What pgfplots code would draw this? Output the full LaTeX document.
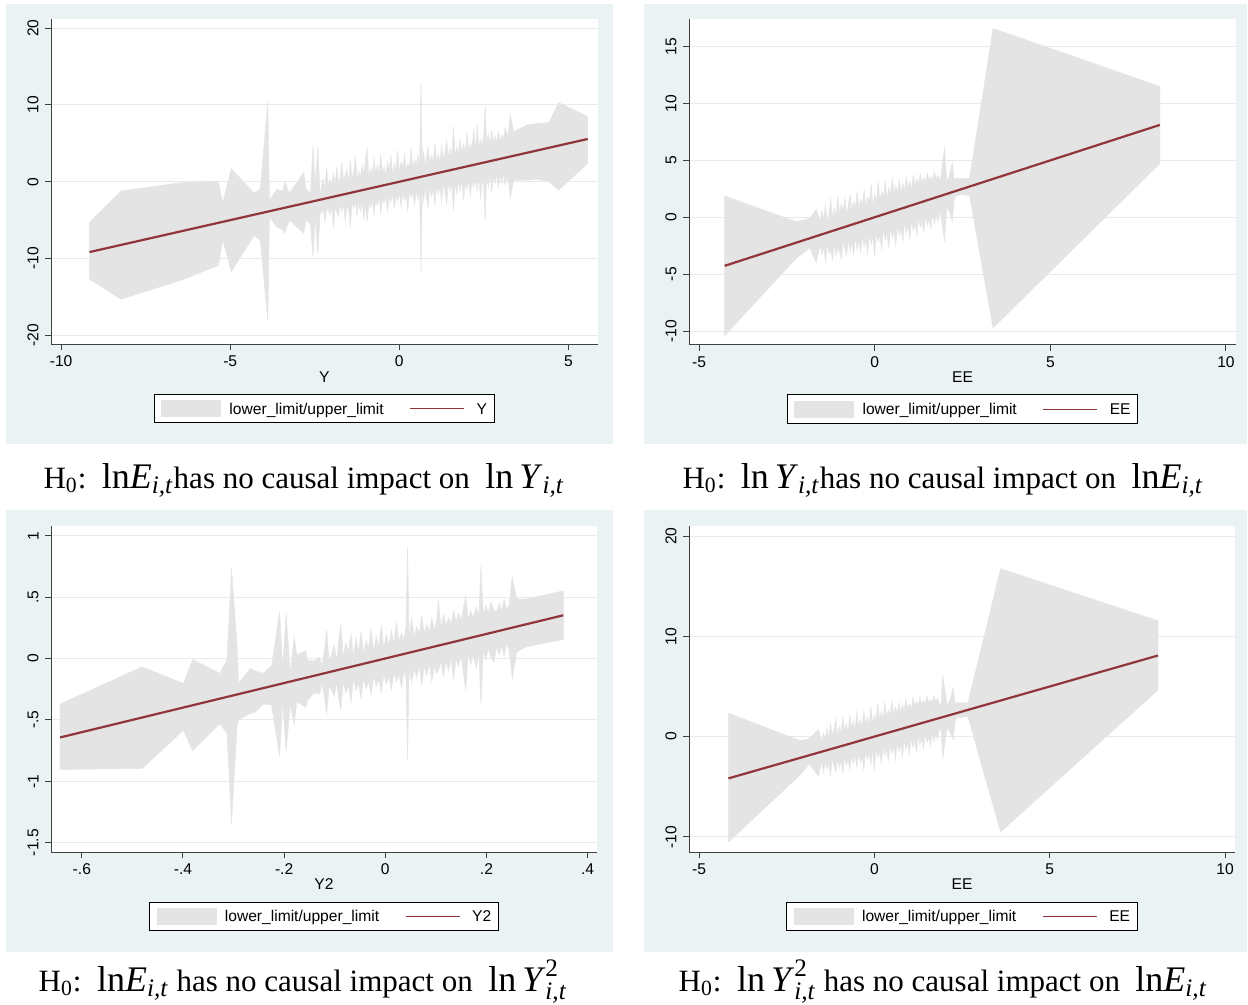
\documentclass[border=0pt]{standalone}
\usepackage{amsmath}
\usepackage{fontspec}
\setmainfont{Liberation Serif}
\newfontfamily\arial{Liberation Sans}
\usepackage{pgfplots}
\pgfplotsset{compat=1.18}
\usepgfplotslibrary{fillbetween}
\usepackage{pgfplotstable}
\pgfdeclarelayer{axis background}

\definecolor{stbg}{HTML}{EAF2F3}
\definecolor{stgrid}{HTML}{E2ECEE}
\definecolor{stband}{HTML}{E4E4E4}
\definecolor{stline}{HTML}{90353B}
\definecolor{staxis}{HTML}{404040}
\newcommand\chartfont{\arial\fontsize{7.8}{9}\selectfont}

% confidence band of panel 1 (Y)
\pgfplotstableread{
x lo hi
-9.16 -12.7 -5.3
-8.23 -15.3 -1.2
-6.43 -12.8 -0.1
-5.35 -10.9 0.05
-5.22 -7.6 -2.8
-4.97 -11.7 1.7
-4.29 -7.0 -1.5
-4.11 -7.6 -0.9
-3.89 -18.1 10.4
-3.84 -4.6 -2.4
-3.62 -5.9 -1.0
-3.44 -6.3 -1.2
-3.39 -6.7 0.0
-3.25 -5.0 -1.5
-2.83 -6.7 1.2
-2.75 -5.0 -1.0
-2.63 -5.5 -1.5
-2.55 -9.8 4.7
-2.49 -4.5 -0.5
-2.41 -9.4 4.5
-2.34 -4.0 -1.9
-2.30 -4.1 -0.6
-2.25 -3.4 0.4
-2.20 -5.3 -1.0
-2.15 -3.6 1.9
-2.10 -3.5 -0.6
-2.05 -4.4 0.3
-2.00 -3.2 -0.4
-1.95 -6.1 1.2
-1.90 -3.4 -0.3
-1.85 -3.9 1.9
-1.80 -4.6 0.0
-1.75 -3.0 0.4
-1.70 -3.9 2.6
-1.65 -2.9 0.1
-1.60 -5.2 0.9
-1.55 -3.1 1.6
-1.50 -3.6 -0.1
-1.45 -6.0 2.9
-1.40 -2.8 0.5
-1.35 -3.5 1.1
-1.30 -2.6 3.4
-1.25 -4.4 0.2
-1.20 -2.7 1.4
-1.15 -3.9 0.6
-1.10 -2.5 2.2
-1.05 -5.0 0.9
-1.00 -2.9 3.0
-0.95 -5.2 4.3
-0.90 -2.6 0.6
-0.85 -3.4 1.8
-0.80 -2.3 0.9
-0.75 -4.4 3.1
-0.70 -2.5 1.0
-0.65 -3.1 2.2
-0.60 -2.0 0.9
-0.55 -4.1 3.6
-0.50 -2.2 1.1
-0.45 -2.8 2.0
-0.40 -1.9 0.8
-0.35 -3.9 2.7
-0.30 -2.0 1.5
-0.25 -2.6 3.4
-0.20 -1.6 1.0
-0.15 -3.4 2.4
-0.10 -1.9 1.4
-0.05 -2.5 4.1
0.00 -1.5 1.3
0.05 -3.3 2.6
0.10 -1.4 1.8
0.15 -2.4 3.7
0.20 -1.8 1.5
0.25 -3.9 2.4
0.30 -1.2 1.9
0.35 -2.1 4.4
0.40 -1.5 1.7
0.45 -3.0 2.9
0.50 -1.1 2.2
0.55 -2.4 3.5
0.60 -1.3 2.0
0.64 -11.9 13.0
0.68 -1.0 2.4
0.72 -2.6 3.9
0.76 -0.8 2.1
0.80 -2.0 3.0
0.85 -3.4 4.6
0.90 -0.6 2.4
0.95 -1.9 3.5
1.00 -0.9 2.6
1.05 -3.1 5.1
1.10 -0.5 2.8
1.15 -1.6 3.6
1.20 -0.7 2.5
1.25 -2.6 4.8
1.30 -0.3 3.0
1.35 -1.4 3.9
1.40 -2.9 5.4
1.45 -0.2 3.1
1.50 -1.2 4.4
1.55 -0.3 3.2
1.60 -3.7 7.2
1.65 -0.1 3.5
1.70 -1.6 4.6
1.75 0.0 3.6
1.80 -1.3 5.6
1.85 0.1 3.7
1.90 -2.4 4.9
1.95 -0.2 3.9
2.00 -1.0 6.4
2.05 0.3 4.0
2.10 -1.9 5.0
2.15 0.2 4.4
2.20 -0.8 6.9
2.25 0.5 4.3
2.30 -1.2 7.4
2.35 0.6 4.5
2.40 -2.3 5.6
2.45 0.4 4.7
2.50 -0.9 6.3
2.54 -4.96 9.94
2.58 0.7 5.0
2.63 -0.6 6.2
2.68 0.9 4.9
2.73 -1.4 6.7
2.78 0.8 5.2
2.83 -0.3 6.0
2.88 1.0 5.1
2.93 -0.8 6.6
2.98 0.9 5.3
3.03 -0.2 6.1
3.08 1.1 5.6
3.13 -0.5 7.0
3.18 0.6 6.2
3.23 0.1 6.4
3.28 -2.12 8.78
3.38 0.2 6.5
3.55 0.2 6.9
3.78 0.2 7.4
4.10 0.3 7.6
4.42 0.0 7.7
4.71 -1.1 10.3
5.57 2.4 8.5
}\bandY

% confidence band of panel 2 (EE)
\pgfplotstableread{
x lo hi
-4.27 -10.4 1.87
-2.23 -3.6 -0.39
-1.85 -2.7 -0.1
-1.66 -4.0 0.7
-1.55 -2.4 -0.4
-1.50 -3.3 0.6
-1.45 -2.6 -0.2
-1.40 -3.9 1.1
-1.35 -2.4 -0.4
-1.30 -3.2 0.3
-1.25 -2.9 1.6
-1.20 -3.8 -0.1
-1.15 -2.3 0.8
-1.10 -3.4 0.1
-1.05 -2.6 1.9
-1.00 -3.1 0.3
-0.95 -3.7 1.2
-0.90 -2.1 0.5
-0.85 -2.8 1.7
-0.80 -3.4 0.2
-0.75 -2.0 1.1
-0.70 -3.0 2.0
-0.65 -2.2 0.6
-0.60 -3.3 1.4
-0.55 -1.8 0.9
-0.50 -2.9 2.2
-0.45 -2.0 0.8
-0.40 -3.1 1.6
-0.35 -1.7 1.1
-0.30 -2.6 2.4
-0.25 -1.9 0.9
-0.20 -3.2 1.8
-0.15 -1.5 1.3
-0.10 -2.4 2.9
-0.05 -1.7 1.0
0.00 -3.5 2.0
0.05 -1.3 1.4
0.10 -2.2 3.2
0.15 -1.6 1.5
0.20 -2.9 2.3
0.25 -1.1 1.7
0.30 -2.0 3.3
0.35 -1.4 1.6
0.40 -2.7 2.6
0.45 -0.9 1.9
0.50 -1.8 3.5
0.55 -1.2 2.0
0.60 -2.5 2.8
0.65 -0.7 2.2
0.70 -1.6 3.3
0.75 -0.9 2.1
0.80 -2.2 3.0
0.85 -0.5 2.4
0.90 -1.4 3.6
0.95 -0.7 2.6
1.00 -1.9 3.2
1.05 -0.3 2.5
1.10 -1.2 3.7
1.15 -0.5 2.8
1.20 -1.6 3.4
1.25 -0.1 2.9
1.30 -0.9 3.8
1.35 -0.4 3.0
1.40 -1.3 3.5
1.45 0.1 3.1
1.50 -0.7 3.9
1.55 -0.2 3.2
1.60 -1.0 3.6
1.65 0.3 3.3
1.70 -0.6 4.0
1.75 0.2 3.4
1.80 -0.4 3.7
1.85 0.5 3.2
1.90 -0.2 3.9
1.99 -2.1 6.2
2.05 0.9 3.1
2.12 0.5 3.6
2.21 -0.4 4.8
2.26 1.5 3.3
2.30 1.9 3.4
2.50 2.0 3.4
2.70 1.9 3.4
3.37 -9.74 16.6
8.12 4.74 11.5
}\bandEEa

% confidence band of panel 3 (Y2)
\pgfplotstableread{
x lo hi
-0.643 -0.904 -0.372
-0.481 -0.896 -0.068
-0.399 -0.584 -0.204
-0.381 -0.752 -0.008
-0.327 -0.530 -0.122
-0.313 -0.610 -0.010
-0.304 -1.344 0.733
-0.293 -0.540 0.095
-0.290 -0.500 -0.200
-0.267 -0.448 -0.081
-0.258 -0.440 -0.100
-0.241 -0.370 -0.120
-0.225 -0.380 -0.060
-0.209 -0.796 0.377
-0.203 -0.350 -0.070
-0.196 -0.752 0.366
-0.188 -0.370 -0.120
-0.180 -0.540 0.176
-0.175 -0.350 0.030
-0.157 -0.400 0.062
-0.154 -0.340 -0.014
-0.140 -0.280 -0.020
-0.130 -0.290 0.010
-0.125 -0.200 -0.060
-0.120 -0.330 0.080
-0.116 -0.456 0.234
-0.111 -0.230 -0.030
-0.106 -0.260 0.040
-0.101 -0.310 0.110
-0.096 -0.200 -0.020
-0.092 -0.330 0.160
-0.088 -0.418 0.272
-0.083 -0.190 0.010
-0.078 -0.280 0.130
-0.073 -0.220 0.050
-0.068 -0.360 0.200
-0.063 -0.170 0.020
-0.058 -0.260 0.170
-0.053 -0.200 0.060
-0.048 -0.330 0.220
-0.043 -0.160 0.040
-0.038 -0.250 0.150
-0.033 -0.190 0.080
-0.028 -0.300 0.240
-0.023 -0.140 0.060
-0.018 -0.230 0.180
-0.013 -0.170 0.090
-0.008 -0.280 0.270
-0.003 -0.130 0.080
0.002 -0.210 0.200
0.007 -0.150 0.110
0.012 -0.260 0.230
0.017 -0.110 0.120
0.022 -0.190 0.300
0.027 -0.130 0.140
0.032 -0.240 0.210
0.037 -0.100 0.150
0.041 -0.170 0.260
0.044 -0.828 0.917
0.047 -0.090 0.170
0.052 -0.200 0.330
0.057 -0.080 0.180
0.062 -0.160 0.260
0.067 -0.060 0.200
0.072 -0.220 0.350
0.077 -0.070 0.210
0.082 -0.140 0.280
0.087 -0.040 0.220
0.092 -0.190 0.330
0.097 -0.060 0.230
0.101 -0.120 0.300
0.105 -0.095 0.475
0.110 -0.030 0.250
0.115 -0.150 0.360
0.120 -0.020 0.270
0.125 -0.100 0.330
0.130 0.000 0.280
0.135 -0.170 0.390
0.140 -0.010 0.300
0.145 -0.060 0.370
0.150 0.020 0.310
0.159 -0.258 0.515
0.164 0.040 0.320
0.169 -0.050 0.390
0.174 0.030 0.330
0.180 -0.080 0.420
0.185 0.050 0.350
0.189 -0.372 0.752
0.194 0.070 0.360
0.199 -0.010 0.430
0.204 0.080 0.370
0.209 0.010 0.460
0.215 -0.030 0.395
0.220 0.100 0.380
0.225 0.030 0.450
0.230 0.110 0.390
0.235 0.015 0.480
0.240 0.130 0.400
0.245 0.060 0.440
0.251 -0.163 0.665
0.260 0.054 0.483
0.279 0.095 0.485
0.352 0.155 0.551
}\bandYtwo

% confidence band of panel 4 (EE)
\pgfplotstableread{
x lo hi
-4.16 -10.5 2.33
-2.11 -3.8 -0.4
-1.85 -2.7 -0.2
-1.59 -3.96 0.74
-1.50 -2.4 -0.5
-1.45 -3.6 0.4
-1.40 -2.5 -0.3
-1.35 -3.2 0.9
-1.30 -2.7 -0.1
-1.25 -3.9 1.3
-1.20 -2.2 0.2
-1.15 -3.0 0.7
-1.10 -3.5 1.8
-1.05 -2.3 0.1
-1.00 -3.1 1.0
-0.95 -2.4 0.4
-0.90 -3.6 2.0
-0.85 -2.0 0.6
-0.80 -2.9 1.3
-0.75 -2.2 0.5
-0.70 -3.3 2.1
-0.65 -1.9 0.9
-0.60 -2.7 1.6
-0.55 -1.8 0.7
-0.50 -3.0 2.5
-0.45 -1.7 1.0
-0.40 -2.6 1.7
-0.35 -2.0 0.9
-0.30 -3.3 2.6
-0.25 -1.5 1.2
-0.20 -2.3 2.0
-0.15 -1.6 1.1
-0.10 -2.8 3.0
-0.05 -1.4 1.3
0.00 -3.4 2.2
0.05 -1.2 1.6
0.10 -2.1 3.3
0.15 -1.5 1.7
0.20 -2.7 2.5
0.25 -1.0 1.8
0.30 -1.9 3.4
0.35 -1.3 1.9
0.40 -2.4 2.7
0.45 -0.8 2.1
0.50 -1.7 3.6
0.55 -1.0 2.2
0.60 -2.3 3.0
0.65 -0.6 2.3
0.70 -1.5 3.4
0.75 -0.8 2.5
0.80 -2.0 3.2
0.85 -0.4 2.6
0.90 -1.3 3.8
0.95 -0.6 2.8
1.00 -1.8 3.3
1.05 -0.2 2.7
1.10 -1.1 3.9
1.15 -0.4 3.0
1.20 -1.5 3.5
1.25 0.0 3.1
1.30 -0.8 3.9
1.35 -0.3 3.2
1.40 -1.2 3.6
1.45 0.2 3.3
1.50 -0.6 4.0
1.55 -0.1 3.4
1.60 -0.9 3.7
1.65 0.4 3.4
1.70 -0.5 4.1
1.75 0.3 3.5
1.80 -0.3 3.8
1.85 0.6 3.3
1.90 0.9 3.0
1.95 -2.14 6.08
2.08 0.9 3.1
2.16 0.4 3.7
2.25 -0.3 4.9
2.30 1.5 3.3
2.35 1.9 3.4
2.67 2.0 3.4
3.60 -9.5 16.75
8.09 4.65 11.55
}\bandEEb

\pgfplotsset{
  statapanel/.style={
    scale only axis, anchor=south west,
    axis x line*=bottom, axis y line*=left,
    axis line style={staxis, line width=0.5pt, -},
    tick style={staxis, line width=0.5pt},
    tick align=outside, major tick length=3pt,
    ymajorgrids, grid style={stgrid, line width=0.5pt},
    axis background/.style={fill=white},
    tick label style={font=\chartfont},
    xticklabel style={inner sep=0pt, yshift=-2.6pt},
    yticklabel style={rotate=90, anchor=south, inner sep=0pt, yshift=3pt},
    label style={font=\chartfont},
    xlabel style={at={(axis description cs:0.5,0)}, anchor=center, yshift=-16.25pt},
    legend columns=-1,
    legend style={at={(0.5,0)}, anchor=north, yshift=-24.75pt,
      draw=black, line width=0.5pt, fill=white,
      inner xsep=3.5pt, inner ysep=3pt, font=\chartfont,
      nodes={inner sep=0pt, text depth=0pt}, column sep=0pt},
  },
  bandleg/.style={legend image code/.code={
      \fill[stband] (0pt,-4pt) rectangle (29.35pt,4pt);
      \path (33.85pt,0pt);}},
  lineleg/.style={legend image code/.code={
      \path (-12.7pt,0pt);
      \draw[stline, line width=0.6pt] (0pt,0pt) -- (27pt,0pt);
      \path (32.65pt,0pt);}},
}

\begin{document}
\begin{tikzpicture}
\pgfplotsset{set layers}
\begin{pgfonlayer}{axis background}
\fill[white] (0pt,0pt) rectangle (624pt,-502.5pt);
\fill[stbg] (3pt,-2pt) rectangle (306.5pt,-222pt);
\fill[stbg] (322pt,-2pt) rectangle (623.5pt,-222pt);
\fill[stbg] (3pt,-255pt) rectangle (306.5pt,-476pt);
\fill[stbg] (322pt,-255pt) rectangle (623.5pt,-476pt);
\end{pgfonlayer}

% panel 1
\begin{axis}[statapanel, at={(25.5pt,-172.25pt)}, width=273.25pt, height=162.75pt,
  xmin=-10.3, xmax=5.86, ymin=-21.2, ymax=21.2,
  xtick={-10,-5,0,5}, xticklabels={-10,-5,0,5},
  ytick={-20,-10,0,10,20}, yticklabels={-20,-10,0,10,20},
  xlabel={Y}]
\addplot[name path=h1, draw=none, forget plot] table[x=x, y=hi] {\bandY};
\addplot[name path=l1, draw=none, forget plot] table[x=x, y=lo] {\bandY};
\addplot[fill=stband, draw=stband, line width=0.2pt, bandleg] fill between[of=h1 and l1];
\addlegendentry{lower\_limit/upper\_limit}
\addplot[stline, line width=1.1pt, lineleg] coordinates {(-9.16,-9.16) (5.57,5.57)};
\addlegendentry{Y}
\end{axis}

% panel 2
\begin{axis}[statapanel, at={(344.5pt,-172.5pt)}, width=273.5pt, height=163pt,
  xmin=-5.285, xmax=10.285, ymin=-11.23, ymax=17.43,
  xtick={-5,0,5,10}, xticklabels={-5,0,5,10},
  ytick={-10,-5,0,5,10,15}, yticklabels={-10,-5,0,5,10,15},
  xlabel={EE}]
\addplot[name path=h2, draw=none, forget plot] table[x=x, y=hi] {\bandEEa};
\addplot[name path=l2, draw=none, forget plot] table[x=x, y=lo] {\bandEEa};
\addplot[fill=stband, draw=stband, line width=0.2pt, bandleg] fill between[of=h2 and l2];
\addlegendentry{lower\_limit/upper\_limit}
\addplot[stline, line width=1.1pt, lineleg] coordinates {(-4.27,-4.27) (8.12,8.12)};
\addlegendentry{EE}
\end{axis}

% panel 3
\begin{axis}[statapanel, at={(25.5pt,-426pt)}, width=273pt, height=163pt,
  xmin=-0.661, xmax=0.4186, ymin=-1.576, ymax=1.079,
  xtick={-0.6,-0.4,-0.2,0,0.2,0.4}, xticklabels={-.6,-.4,-.2,0,.2,.4},
  ytick={-1.5,-1,-0.5,0,0.5,1}, yticklabels={-1.5,-1,-.5,0,.5,1},
  xlabel={Y2}]
\addplot[name path=h3, draw=none, forget plot] table[x=x, y=hi] {\bandYtwo};
\addplot[name path=l3, draw=none, forget plot] table[x=x, y=lo] {\bandYtwo};
\addplot[fill=stband, draw=stband, line width=0.2pt, bandleg] fill between[of=h3 and l3];
\addlegendentry{lower\_limit/upper\_limit}
\addplot[stline, line width=1.1pt, lineleg] coordinates {(-0.643,-0.643) (0.352,0.352)};
\addlegendentry{Y2}
\end{axis}

% panel 4
\begin{axis}[statapanel, at={(344.5pt,-426pt)}, width=273pt, height=163pt,
  xmin=-5.285, xmax=10.285, ymin=-11.5, ymax=21.0,
  xtick={-5,0,5,10}, xticklabels={-5,0,5,10},
  ytick={-10,0,10,20}, yticklabels={-10,0,10,20},
  xlabel={EE}]
\addplot[name path=h4, draw=none, forget plot] table[x=x, y=hi] {\bandEEb};
\addplot[name path=l4, draw=none, forget plot] table[x=x, y=lo] {\bandEEb};
\addplot[fill=stband, draw=stband, line width=0.2pt, bandleg] fill between[of=h4 and l4];
\addlegendentry{lower\_limit/upper\_limit}
\addplot[stline, line width=1.1pt, lineleg] coordinates {(-4.16,-4.16) (8.09,8.09)};
\addlegendentry{EE}
\end{axis}

% captions
\tikzset{capt/.style={anchor=base, inner sep=0pt, text depth=0pt, font=\fontsize{15.5}{18}\selectfont}}
\node[capt] at (152pt,-244pt)
  {H\textsubscript{0}:\ \ {\fontsize{18}{20}\selectfont ln$\text{\textit{E}}_{\text{\textit{i,t}}}$}has no causal impact on\ \ {\fontsize{18}{20}\selectfont ln\,$\text{\textit{Y}}_{\text{\textit{i,t}}}$}};
\node[capt] at (471.5pt,-244pt)
  {H\textsubscript{0}:\ \ {\fontsize{18}{20}\selectfont ln\,$\text{\textit{Y}}_{\text{\textit{i,t}}}$}has no causal impact on\ \ {\fontsize{18}{20}\selectfont ln$\text{\textit{E}}_{\text{\textit{i,t}}}$}};
\node[capt] at (151.5pt,-495.5pt)
  {H\textsubscript{0}:\ \ {\fontsize{18}{20}\selectfont ln$\text{\textit{E}}_{\text{\textit{i,t}}}$}\ has no causal impact on\ \ {\fontsize{18}{20}\selectfont ln\,$\text{\textit{Y}}^{\text{2}}_{\text{\textit{i,t}}}$}};
\node[capt] at (471.5pt,-495.5pt)
  {H\textsubscript{0}:\ \ {\fontsize{18}{20}\selectfont ln\,$\text{\textit{Y}}^{\text{2}}_{\text{\textit{i,t}}}$}\ has no causal impact on\ \ {\fontsize{18}{20}\selectfont ln$\text{\textit{E}}_{\text{\textit{i,t}}}$}};
\end{tikzpicture}
\end{document}
